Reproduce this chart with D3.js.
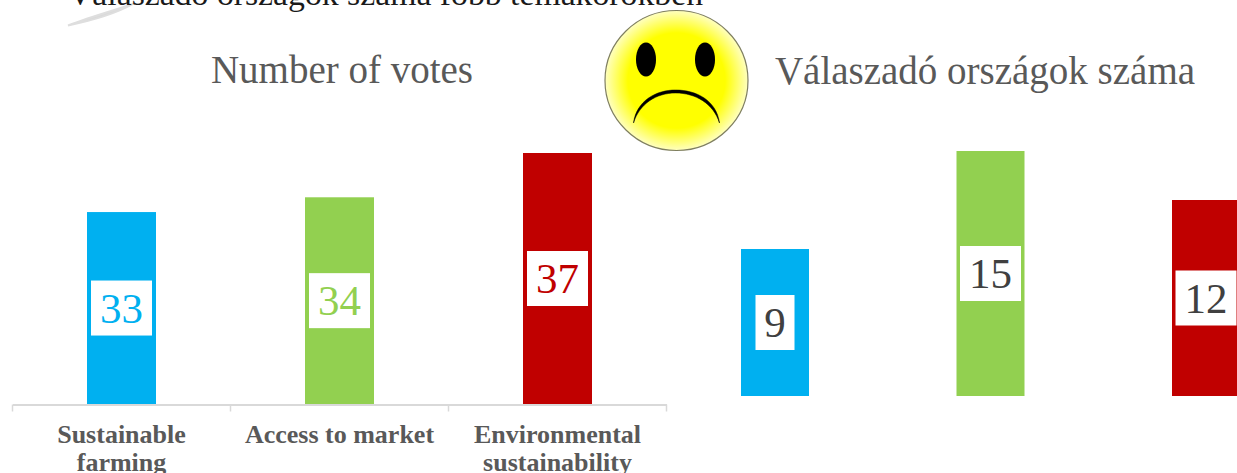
<!DOCTYPE html>
<html>
<head>
<meta charset="utf-8">
<script src="https://cdnjs.cloudflare.com/ajax/libs/d3/7.8.5/d3.min.js"></script>
<style>
    html, body { margin: 0; padding: 0; background: #fff; overflow: hidden; }
    text { font-family: "Liberation Serif", serif; }
</style>
</head>
<body>
<svg id="chart" width="1237" height="473"></svg>
<script>
var slideTitle = 'Válaszadó országok száma főbb témakörökben';
var leftTitle = 'Number of votes';
var rightTitle = 'Válaszadó országok száma';
var leftCategories = ['Sustainable farming', 'Access to market', 'Environmental sustainability'];
var leftCategoryLines = [['Sustainable', 'farming'], ['Access to market'], ['Environmental', 'sustainability']];
var rightCategories = ['Fenntartható gazdálkodás', 'Piacra jutás', 'Környezeti fenntarthatóság'];
var votes = [33, 34, 37];
var countries = [9, 15, 12];
var barColors = ['#00b0f0', '#92d050', '#c00000'];

var svg = d3.select('#chart');

// grey swoosh and the slide heading, which is cut off by the top edge
svg.append('path')
    .attr('d', 'M68,25.5 C90,21 115,14 133,4 C115,10 90,17 68,25.5 Z')
    .attr('fill', '#d9d9d9')
    .attr('stroke', '#dedede')
    .attr('stroke-width', 2);

svg.append('text')
    .attr('x', 68)
    .attr('y', 5)
    .attr('textLength', 635)
    .attr('lengthAdjust', 'spacingAndGlyphs')
    .style('font-size', '32px')
    .style('fill', '#1a1a1a')
    .text(slideTitle);

function drawPanel(opts) {
    var xScale = d3.scaleBand()
                    .domain(opts.categories)
                    .range(opts.xRange);

    var yScale = d3.scaleLinear()
                    .domain(opts.yDomain)
                    .range(opts.yRange);

    var labelHeight = 55;
    var center = (d, i) => xScale(opts.categories[i]) + xScale.bandwidth() / 2;

    var g = svg.append('g');

    g.selectAll('.bar')
        .data(opts.values)
        .enter()
        .append('rect')
            .classed('bar', true)
            .attr('x', (d, i) => center(d, i) - opts.barWidth / 2)
            .attr('y', d => yScale(d))
            .attr('width', opts.barWidth)
            .attr('height', d => opts.yRange[0] - yScale(d))
            .attr('fill', (d, i) => barColors[i]);

    g.selectAll('.label-box')
        .data(opts.values)
        .enter()
        .append('rect')
            .classed('label-box', true)
            .attr('x', (d, i) => center(d, i) - (d < 10 ? 19.5 : 30.5))
            .attr('y', d => (yScale(d) + opts.yRange[0]) / 2 - labelHeight / 2)
            .attr('width', d => d < 10 ? 39 : 61)
            .attr('height', labelHeight)
            .attr('fill', '#fff');

    g.selectAll('.label')
        .data(opts.values)
        .enter()
        .append('text')
            .classed('label', true)
            .attr('x', (d, i) => center(d, i))
            .attr('y', d => (yScale(d) + opts.yRange[0]) / 2 + 14.5)
            .style('font-size', '43px')
            .style('text-anchor', 'middle')
            .style('fill', (d, i) => opts.labelColors ? opts.labelColors[i] : '#404040')
            .text(d => d);

    return { xScale: xScale, yScale: yScale };
}

var left = drawPanel({
    categories: leftCategories,
    values: votes,
    xRange: [12.5, 666.5],
    yDomain: [20, 37],
    yRange: [404, 153],
    barWidth: 69,
    labelColors: barColors
});

drawPanel({
    categories: rightCategories,
    values: countries,
    xRange: [667.25, 1313.75],
    yDomain: [0, 15],
    yRange: [396, 151],
    barWidth: 68
});

// category axis of the left panel, ticks sit between the bands
var xAxis = d3.axisBottom(left.xScale).tickSize(0).tickFormat('');
var axisG = svg.append('g')
    .attr('transform', 'translate(0, 404.5)')
    .call(xAxis);
axisG.select('.domain').attr('stroke', '#d9d9d9').attr('stroke-width', 2);

var tickEdges = leftCategories.map(c => left.xScale(c)).concat(left.xScale.range()[1]);
axisG.selectAll('.sep')
    .data(tickEdges)
    .enter()
    .append('line')
        .classed('sep', true)
        .attr('x1', d => d)
        .attr('x2', d => d)
        .attr('y1', 0)
        .attr('y2', 7)
        .attr('stroke', '#d9d9d9')
        .attr('stroke-width', 1.5);

leftCategories.forEach(function(c, i) {
    var cx = left.xScale(c) + left.xScale.bandwidth() / 2;
    var t = svg.append('text')
        .attr('y', 443)
        .style('font-size', '26px')
        .style('font-weight', 'bold')
        .style('text-anchor', 'middle')
        .style('fill', '#595959');
    leftCategoryLines[i].forEach(function(line, j) {
        t.append('tspan')
            .attr('x', cx)
            .attr('dy', j ? 28 : 0)
            .text(line);
    });
});

svg.append('text')
    .attr('x', 342)
    .attr('y', 83)
    .style('font-size', '39px')
    .style('text-anchor', 'middle')
    .style('fill', '#595959')
    .text(leftTitle);

svg.append('text')
    .attr('x', 985)
    .attr('y', 84)
    .style('font-size', '39px')
    .style('text-anchor', 'middle')
    .style('fill', '#595959')
    .text(rightTitle);

// sad face
var defs = svg.append('defs');
var grad = defs.append('radialGradient').attr('id', 'faceFill');
grad.append('stop').attr('offset', '0%').attr('stop-color', '#ffff00');
grad.append('stop').attr('offset', '68%').attr('stop-color', '#ffff00');
grad.append('stop').attr('offset', '100%').attr('stop-color', '#ffffc0');

var face = svg.append('g').attr('transform', 'translate(676.5, 80.5)');
face.append('ellipse')
    .attr('rx', 71.5)
    .attr('ry', 70)
    .attr('fill', 'url(#faceFill)')
    .attr('stroke', '#7f7f5f')
    .attr('stroke-width', 1.2);
face.selectAll('.eye')
    .data([-30.5, 28.5])
    .enter()
    .append('ellipse')
        .classed('eye', true)
        .attr('cx', d => d)
        .attr('cy', -21)
        .attr('rx', 10)
        .attr('ry', 17)
        .attr('fill', '#000');
face.append('path')
    .attr('d', 'M-43,42.5 C-40,20 -20,9.5 -1,9.5 C20,9.5 40,20 43,42.5 C37,23 19,12.5 -1,12.5 C-20,12.5 -37,23 -43,42.5 Z')
    .attr('fill', '#000')
    .attr('stroke', '#000')
    .attr('stroke-width', 0.5);
</script>
</body>
</html>
